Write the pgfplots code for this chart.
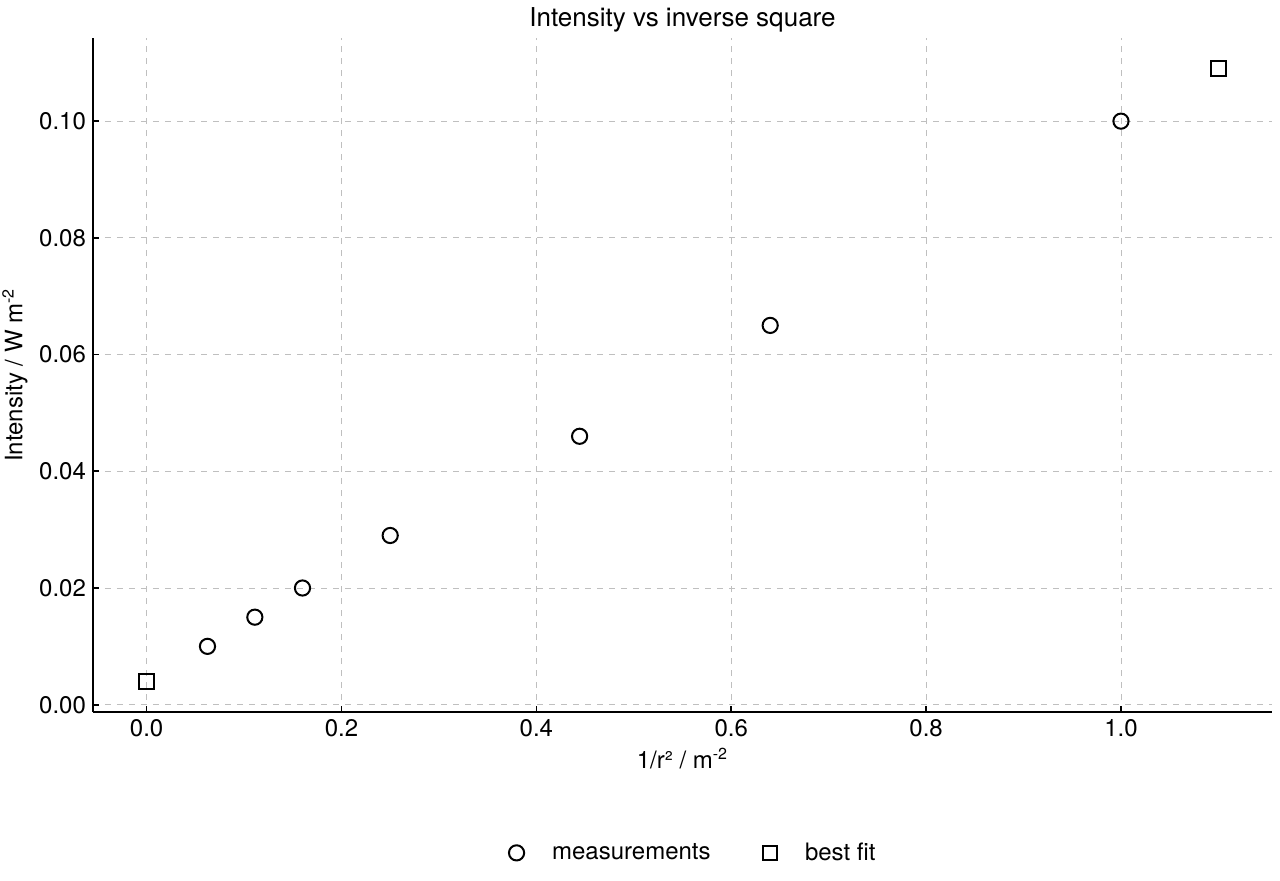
\documentclass[border=0pt]{standalone}
\usepackage{pgfplots}
\pgfplotsset{compat=1.18}
\usepackage{fontspec}
\setmainfont{TeX Gyre Heros}
\begin{document}
\begin{tikzpicture}
\path[use as bounding box] (-46.5pt,-84pt) rectangle (593.5pt,356pt);
\begin{axis}[
    at={(0,0)}, anchor=south west,
    scale only axis,
    width=589.5pt, height=337pt,
    clip=false,
    xmin=-0.055, xmax=1.155,
    ymin=-0.00125, ymax=0.11425,
    axis x line*=bottom, axis y line*=left,
    axis line style={line width=1pt},
    tick align=inside,
    major tick length=3pt,
    tick style={line width=0.8pt, black},
    xtick={0,0.2,...,1.0},
    ytick={0,0.02,...,0.1},
    xticklabel style={/pgf/number format/.cd, fixed, fixed zerofill, precision=1, assume math mode=true},
    yticklabel style={/pgf/number format/.cd, fixed, fixed zerofill, precision=2, assume math mode=true},
    scaled ticks=false,
    tick label style={font=\fontsize{12}{14}\selectfont},
    label style={font=\fontsize{12}{14}\selectfont},
    grid=major,
    grid style={dashed, gray!50, line width=0.4pt},
    xlabel={1/r² / m\textsuperscript{-2}},
    ylabel={Intensity / W m\textsuperscript{-2}},
    xlabel style={yshift=1pt},
    ylabel style={yshift=-1pt},
    legend style={at={(0.51,-0.209)}, anchor=center, draw=none, legend columns=2,
        font=\fontsize{12}{14}\selectfont,
        /tikz/every odd column/.append style={column sep=12pt},
        /tikz/every even column/.append style={column sep=24pt}},
    legend cell align=left,
]
\addplot[only marks, mark=o, mark size=3.8pt, mark options={line width=1pt, black}]
coordinates {
(0.0625,0.010) (0.1111,0.015) (0.16,0.020) (0.25,0.029) (0.4444,0.046) (0.64,0.065) (1.0,0.100)
};
\addlegendentry{measurements}
\addplot[only marks, mark=square, mark size=3.6pt, mark options={line width=1pt, black}]
coordinates {
(0,0.004) (1.1,0.109)
};
\addlegendentry{best fit}
\node[anchor=base, font=\fontsize{13}{15}\selectfont, yshift=6pt] at (rel axis cs:0.5,1) {Intensity vs inverse square};
\end{axis}
\end{tikzpicture}
\end{document}
